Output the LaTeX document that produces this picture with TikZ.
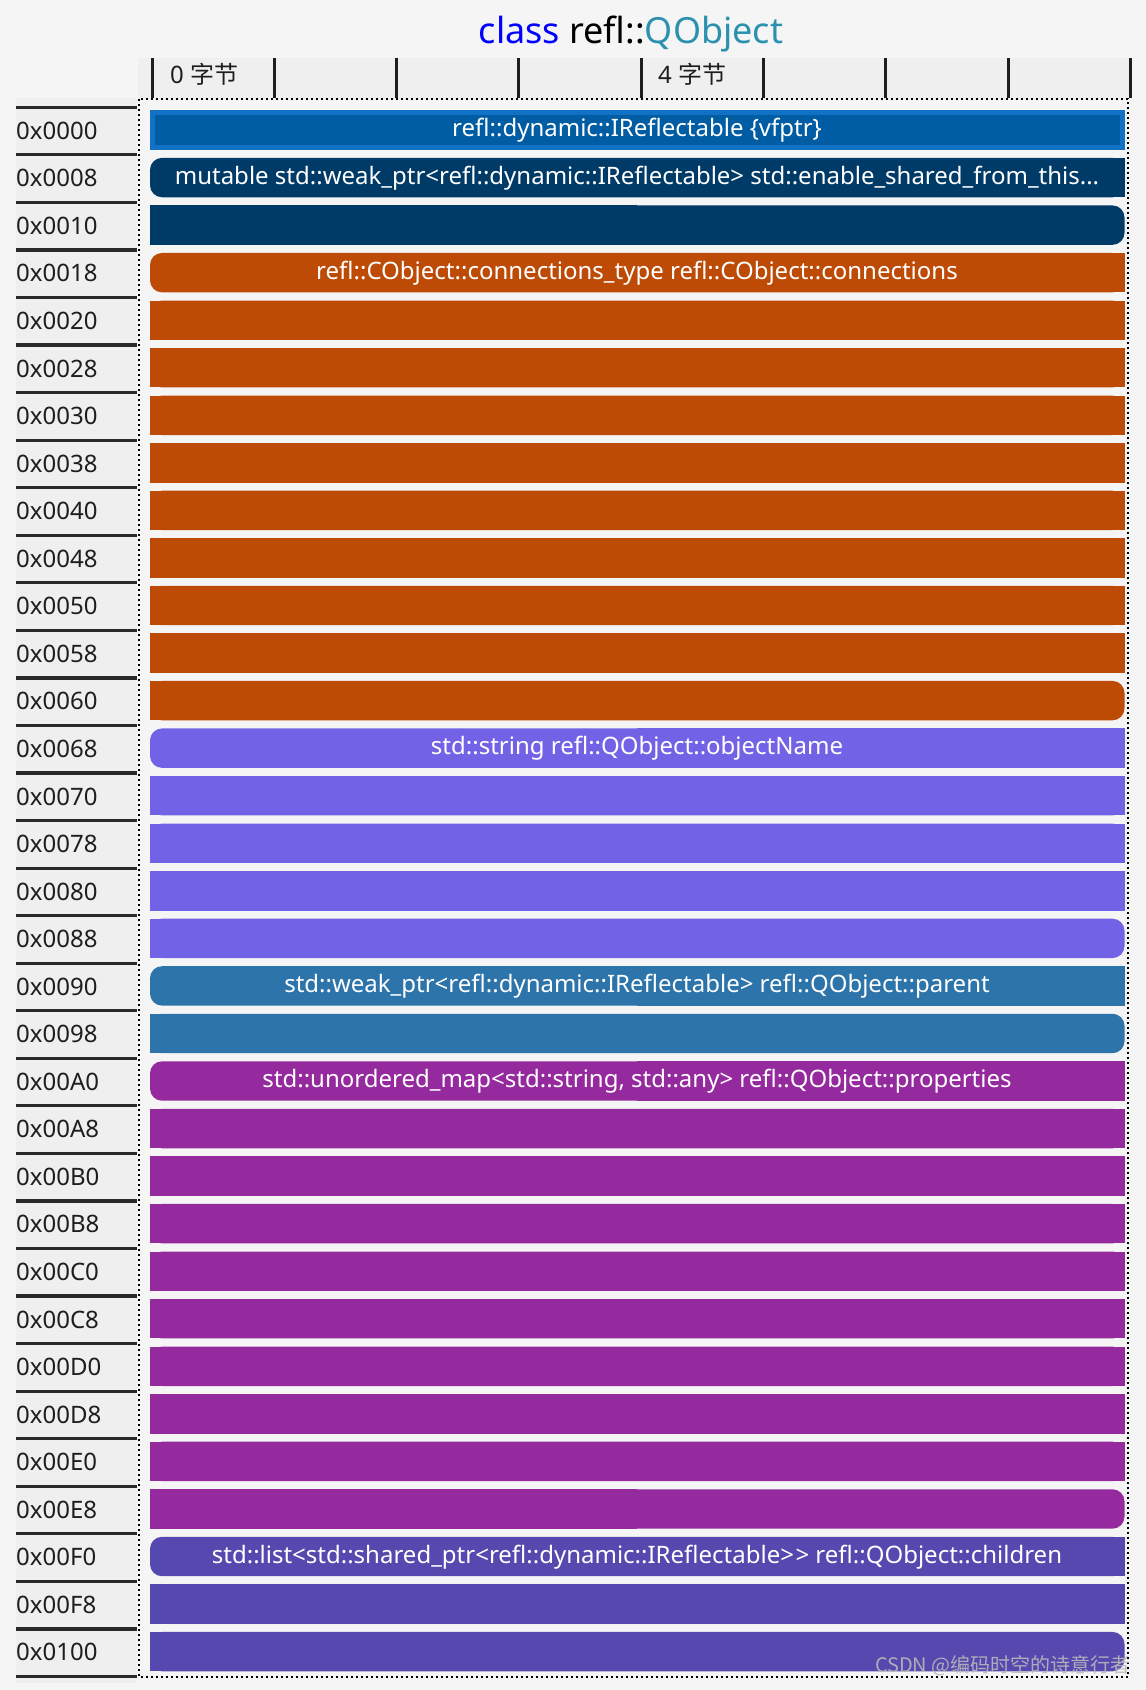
\documentclass[tikz,border=0pt]{standalone}
\usepackage{fontspec}
\setmainfont{Noto Sans}
\newfontfamily\cjk{Noto Sans CJK SC}
\definecolor{bg}{HTML}{F5F5F5}
\definecolor{colbg}{HTML}{EFEFEF}
\definecolor{kwblue}{HTML}{0000FF}
\definecolor{typeteal}{HTML}{2B91AF}
\definecolor{vffill}{HTML}{005CA3}
\definecolor{vfbord}{HTML}{1171C4}
\definecolor{navy}{HTML}{003B68}
\definecolor{orng}{HTML}{BD4B06}
\definecolor{lav}{HTML}{7262E6}
\definecolor{steel}{HTML}{2C74A9}
\definecolor{mag}{HTML}{95299E}
\definecolor{indi}{HTML}{5549AF}
\definecolor{ink}{HTML}{1E1E1E}
\tikzset{
  sepline/.style={line width=3.2pt, ink!95},
  tickline/.style={line width=3pt, ink},
  dotline/.style={line width=2pt, black, dash pattern=on 2pt off 3pt},
  addr/.style={anchor=base west, inner sep=0pt, text=ink, font=\fontsize{24}{28}\selectfont},
  bartext/.style={anchor=base, inner sep=0pt, text=white, font=\fontsize{24}{28}\selectfont},
  hdrtext/.style={anchor=base west, inner sep=0pt, text=ink, font=\fontsize{24}{28}\selectfont},
}
\begin{document}
\begin{tikzpicture}[x=1pt,y=-1pt]
\fill[bg] (0,0) rectangle (1146,1690);
\useasboundingbox (0,0) rectangle (1146,1690);
% title
\node[anchor=base, inner sep=0pt, font=\fontsize{36}{40}\selectfont] (title) at (631,43)
  {\textcolor{kwblue}{class} refl::\textcolor{typeteal}{QObject}};
% header band
\fill[colbg] (138,58) rectangle (1131,99);
\foreach \i in {0,...,8} \draw[tickline] ({152+122.3*\i},58) -- ({152+122.3*\i},98);
\node[hdrtext] (h0) at (170,83) {0 {\cjk 字节}};
\node[hdrtext] (h4) at (658,83) {4 {\cjk 字节}};
% address column
\fill[colbg] (16,98) rectangle (137,1683);
\foreach \i in {0,...,33} \draw[sepline] (16,{107.3+47.55*\i}) -- (137,{107.3+47.55*\i});
\foreach \a [count=\n from 0] in {0000,0008,0010,0018,0020,0028,0030,0038,0040,0048,0050,0058,0060,0068,0070,0078,0080,0088,0090,0098,00A0,00A8,00B0,00B8,00C0,00C8,00D0,00D8,00E0,00E8,00F0,00F8,0100}
  \node[addr] (a\n) at (16,{107.3+47.55*\n+32}) {0x\a};
% vfptr bar
\fill[vfbord] (150,110.3) rectangle (1124.5,149.7);
\fill[vffill] (155,115.3) rectangle (1119.5,144.7);
% other bars
\foreach \k/\c/\xa/\xb in {1/navy/637/1124.5, 2/navy/150/637,
  3/orng/637/1124.5, 4/orng/150/1124.5, 5/orng/150/1124.5, 6/orng/150/1124.5, 7/orng/150/1124.5,
  8/orng/150/1124.5, 9/orng/150/1124.5, 10/orng/150/1124.5, 11/orng/150/1124.5, 12/orng/150/637,
  13/lav/637/1124.5, 14/lav/150/1124.5, 15/lav/150/1124.5, 16/lav/150/1124.5, 17/lav/150/637,
  18/steel/637/1124.5, 19/steel/150/637,
  20/mag/637/1124.5, 21/mag/150/1124.5, 22/mag/150/1124.5, 23/mag/150/1124.5, 24/mag/150/1124.5,
  25/mag/150/1124.5, 26/mag/150/1124.5, 27/mag/150/1124.5, 28/mag/150/1124.5, 29/mag/150/637,
  30/indi/637/1124.5, 31/indi/150/1124.5, 32/indi/150/637}
{
  \pgfmathsetmacro\yt{107.3+47.55*\k+3}
  \pgfmathsetmacro\yb{\yt+39.4}
  \fill[\c, rounded corners=12pt] (150,\yt) rectangle (1124.5,\yb);
  \fill[\c] (\xa,\yt) rectangle (\xb,\yb);
}
% bar texts
\node[bartext] (tVf) at (637,{107.3+29.5}) {refl::dynamic::IReflectable \{vfptr\}};
\node[bartext] (tWeak) at (637,{107.3+47.55*1+29.5}) {mutable std::weak\_ptr<refl::dynamic::IReflectable> std::enable\_shared\_from\_this...};
\node[bartext] (tConn) at (637,{107.3+47.55*3+29.5}) {refl::CObject::connections\_type refl::CObject::connections};
\node[bartext] (tName) at (637,{107.3+47.55*13+29.5}) {std::string refl::QObject::objectName};
\node[bartext] (tParent) at (637,{107.3+47.55*18+29.5}) {std::weak\_ptr<refl::dynamic::IReflectable> refl::QObject::parent};
\node[bartext] (tProps) at (637,{107.3+47.55*20+29.5}) {std::unordered\_map<std::string, std::any> refl::QObject::properties};
\node[bartext] (tChildren) at (637,{107.3+47.55*30+29.5}) {std::list<std::shared\_ptr<refl::dynamic::IReflectable>{}\kern1.5pt> refl::QObject::children};
% dotted frame
\draw[dotline] (139,99) rectangle (1128,1677);
% watermark
\node[anchor=base east, inner sep=0pt, text=white!72!black, opacity=0.9, font=\cjk\fontsize{20}{22}\selectfont] (wm) at (1131,1672) {CSDN @编码时空的诗意行者};
\end{tikzpicture}
\end{document}
